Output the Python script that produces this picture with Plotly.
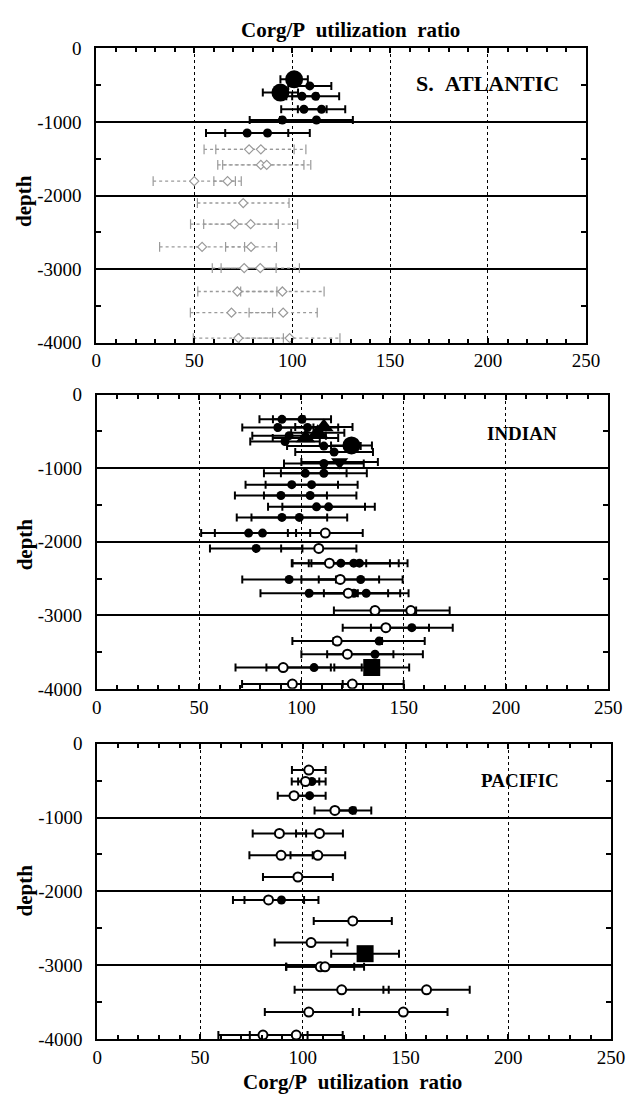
import plotly.graph_objects as go

# page is 636 x 1109; the browser adds an 8 px body margin round the figure
PAGE_W, PAGE_H, PAD = 636, 1109, 8
W, H = PAGE_W - 2 * PAD, PAGE_H - 2 * PAD

# ---------------- data ----------------
x_ticks = [0, 50, 100, 150, 200, 250]
y_ticks = [-4000, -3000, -2000, -1000, 0]
y_tick_text = ["-4000", "-3000", "-2000", "-1000", "0"]

panel_names = ["S.\u00a0\u00a0ATLANTIC", "INDIAN", "PACIFIC"]
axis_title = "Corg/P\u00a0\u00a0utilization\u00a0\u00a0ratio"
depth_title = "depth"

# S. Atlantic, upper (solid) estimates
atl_depth = [-420, -510, -600, -650, -650, -827, -827, -973, -973, -1150, -1150]
atl_value = [101, 109, 94, 105, 112, 106, 115, 95, 112.4, 77, 87.4]
atl_err = [7, 11, 9, 8, 12, 11.6, 12.1, 16.7, 18.6, 21, 21.6]
atl_kind = ["bigcircle", "filled", "bigcircle", "filled", "filled", "filled", "filled",
            "filled", "filled", "filled", "filled"]

# S. Atlantic, deep (grey dotted) estimates
atlg_depth = [-1372, -1372, -1584, -1584, -1805, -1805, -2102, -2389, -2389, -2699, -2699,
              -2987, -2987, -3305, -3305, -3593, -3593, -3938, -3938]
atlg_value = [78, 84, 84, 87, 50, 67, 75, 70.5, 78.8, 54, 79, 75.5, 83.7, 72, 95, 69, 95.4,
              72.5, 98.7]
atlg_err = [23, 23, 22, 22.5, 21, 7, 23.4, 22.4, 24, 21.7, 13, 16.3, 20, 20.2, 21.3, 21, 17.4,
            23, 25.7]

# Indian
ind_depth = [-336, -336, -440, -447, -447, -520, -558, -590, -638, -690, -700, -780, -915, -936,
             -1069, -1069, -1224, -1224, -1371, -1371, -1526, -1526, -1669, -1669,
             -1882, -1882, -1882, -2091, -2091,
             -2291, -2291, -2291, -2291, -2513, -2513, -2513,
             -2700, -2700, -2700, -2700, -2935, -2935, -3168, -3168,
             -3351, -3351, -3529, -3529, -3711, -3711, -3711, -3935, -3935]
ind_value = [90.5, 100.3, 111, 88.5, 103, 108, 94, 102, 92, 124.5, 111, 116, 118.7, 111,
             101.9, 111, 95.3, 105, 90, 104.3, 107.4, 113.3, 90.5, 99,
             74.2, 81, 111.7, 77.9, 108.5,
             113.7, 119.3, 125.6, 128.4, 94, 119, 129,
             103.8, 122.9, 125.7, 131.7, 136, 153.5, 141.3, 154,
             117.5, 138, 122.5, 136, 91.1, 106.2, 134.4, 95.6, 124.9]
ind_err = [11, 14.2, 14, 17.4, 15, 13, 18, 16, 17, 10, 18, 19, 18.7, 19.5,
           20.2, 21, 22.6, 22.5, 22.5, 22.6, 23.7, 22.6, 22.1, 23.4,
           23.2, 23.3, 18.3, 22.6, 18.4,
           18, 24, 22, 23.5, 22.9, 19, 20.5,
           23.8, 19.5, 22.6, 20.7, 20.1, 19, 21.1, 20,
           21.9, 22.3, 22.5, 23.4, 23.3, 23.3, 18.3, 24.6, 25.1]
ind_kind = ["filled", "filled", "triangle", "filled", "filled", "triangle", "filled", "triangle",
            "filled", "bigcircle", "filled", "filled", "tridown", "filled",
            "filled", "filled", "filled", "filled", "filled", "filled", "filled", "filled",
            "filled", "filled",
            "filled", "filled", "open", "filled", "open",
            "open", "filled", "filled", "filled", "filled", "open", "filled",
            "filled", "open", "filled", "filled", "open", "open", "open", "filled",
            "open", "filled", "open", "filled", "open", "filled", "square", "open", "open"]

# Pacific
pac_depth = [-356, -511, -511, -703, -703, -903, -903, -1214, -1214, -1511, -1511, -1805,
             -2116, -2116, -2400, -2693, -2844, -3022, -3022, -3333, -3333, -3635, -3635,
             -3947, -3947]
pac_value = [102.9, 101.3, 104.4, 95.7, 103.3, 115.6, 124.3, 88.6, 108.1, 89.4, 107.3, 97.6,
             83.3, 89.6, 124.3, 104, 130.3, 108.5, 110.8, 118.9, 160.2, 102.9, 148.9,
             80.6, 96.8]
pac_err = [8.2, 6.7, 6.7, 7.9, 7.8, 9.9, 9, 13, 11.4, 15.4, 13.3, 17,
           17.3, 18, 19, 17.7, 16.5, 16.5, 19, 22.9, 21, 21.4, 21.5, 21.7, 22.6]
pac_kind = ["open", "open", "filled", "open", "filled", "open", "filled", "open", "open",
            "open", "open", "open", "open", "filled", "open", "open", "square", "open", "open",
            "open", "open", "open", "open", "open", "open"]

# ---------------- styles ----------------
marker_styles = {
    "filled": dict(symbol="circle", size=9, color="black", line=dict(width=0)),
    "open": dict(symbol="circle", size=9, color="white", line=dict(width=2, color="black")),
    "bigcircle": dict(symbol="circle", size=18, color="black", line=dict(width=0)),
    "triangle": dict(symbol="triangle-up", size=17, color="black", line=dict(width=0)),
    "tridown": dict(symbol="triangle-down", size=15, color="black", line=dict(width=0)),
    "square": dict(symbol="square", size=17, color="black", line=dict(width=0)),
}

fig = go.Figure()

def px_x(p):
    return (p - PAD) / W

def px_y(p):
    return 1 - (p - PAD) / H

panels = [
    dict(xd=[px_x(94), px_x(599)], yd=[px_y(339), px_y(39)]),
    dict(xd=[px_x(94.5), px_x(622)], yd=[px_y(692), px_y(392)]),
    dict(xd=[px_x(95), px_x(625)], yd=[px_y(1049), px_y(748)]),
]

datasets = [
    (atl_depth, atl_value, atl_err, atl_kind),
    (ind_depth, ind_value, ind_err, ind_kind),
    (pac_depth, pac_value, pac_err, pac_kind),
]

GREY = "#9a9a9a"
for i, (pn, ds) in enumerate(zip(panels, datasets)):
    ax = "" if i == 0 else str(i + 1)
    xref, yref = "x" + ax, "y" + ax
    if i == 0:
        lx, ly, cx, cy = [], [], [], []
        for d, v, e in zip(atlg_depth, atlg_value, atlg_err):
            lx += [v - e, v + e, None]
            ly += [d, d, None]
            cx += [v - e, v + e]
            cy += [d, d]
        fig.add_trace(go.Scatter(x=lx, y=ly, mode="lines", xaxis=xref, yaxis=yref,
                                 line=dict(color=GREY, width=1.3, dash="dot"),
                                 showlegend=False, hoverinfo="skip"))
        fig.add_trace(go.Scatter(x=cx, y=cy, mode="markers", xaxis=xref, yaxis=yref,
                                 marker=dict(symbol="line-ns", size=7,
                                             line=dict(color=GREY, width=1.2)),
                                 showlegend=False, hoverinfo="skip"))
        fig.add_trace(go.Scatter(x=atlg_value, y=atlg_depth, mode="markers",
                                 xaxis=xref, yaxis=yref,
                                 marker=dict(symbol="diamond", size=7, color="white",
                                             line=dict(color=GREY, width=1.2)),
                                 showlegend=False, hoverinfo="skip"))
    depth, value, err, kind = ds
    fig.add_trace(go.Scatter(x=value, y=depth, mode="markers", xaxis=xref, yaxis=yref,
                             marker=dict(size=1, color="rgba(0,0,0,0)"),
                             error_x=dict(type="data", array=err, symmetric=True,
                                          color="black", thickness=2, width=4),
                             showlegend=False, hoverinfo="skip"))
    for k, st in marker_styles.items():
        xs = [v for v, kk in zip(value, kind) if kk == k]
        ys = [d for d, kk in zip(depth, kind) if kk == k]
        if not xs:
            continue
        fig.add_trace(go.Scatter(x=xs, y=ys, mode="markers", xaxis=xref, yaxis=yref,
                                 marker=st, showlegend=False, hoverinfo="skip"))

    tickfont = dict(family="Liberation Serif", size=19, color="black")
    fig.update_layout(**{
        "xaxis" + ax: dict(domain=pn["xd"], range=[0, 250], anchor=yref,
                           tickvals=x_ticks, ticks="inside", ticklen=5, tickwidth=2,
                           tickcolor="black",
                           showline=True, linecolor="black", linewidth=2, mirror="ticks",
                           showgrid=True, gridcolor="black", gridwidth=1, griddash="dot",
                           zeroline=False, tickfont=tickfont,
                           minor=dict(dtick=10, ticks="inside", ticklen=4, tickwidth=1.5,
                                      tickcolor="black", showgrid=False)),
        "yaxis" + ax: dict(domain=pn["yd"], range=[-4000, 0], anchor=xref,
                           tickvals=y_ticks, ticktext=y_tick_text,
                           ticks="inside", ticklen=5, tickwidth=2, tickcolor="black",
                           showline=True, linecolor="black", linewidth=2, mirror="ticks",
                           showgrid=True, gridcolor="black", gridwidth=2,
                           zeroline=False, tickfont=tickfont, ticklabelstandoff=9,
                           minor=dict(dtick=500, ticks="inside", ticklen=5, tickwidth=1.5,
                                      tickcolor="black", showgrid=False)),
    })

annotations = []
title_font = dict(family="Liberation Serif", size=21, color="black")
annotations.append(dict(text="<b>" + axis_title + "</b>", x=px_x(356), y=px_y(20),
                        xref="paper", yref="paper", showarrow=False, font=title_font,
                        xanchor="center", yanchor="middle"))
annotations.append(dict(text="<b>" + axis_title + "</b>", x=px_x(358), y=px_y(1093),
                        xref="paper", yref="paper", showarrow=False, font=title_font,
                        xanchor="center", yanchor="middle"))
for yc in [195, 545, 898]:
    annotations.append(dict(text="<b>" + depth_title + "</b>", x=px_x(20), y=px_y(yc),
                            xref="paper", yref="paper", showarrow=False, textangle=-90,
                            font=title_font, xanchor="center", yanchor="middle"))
label_pos = [(497, 75, 22), (533, 432, 19), (531, 785, 19)]
for name, (lx, ly, fs) in zip(panel_names, label_pos):
    annotations.append(dict(text="<b>" + name + "</b>", x=px_x(lx), y=px_y(ly),
                            xref="paper", yref="paper", showarrow=False,
                            font=dict(family="Liberation Serif", size=fs, color="black"),
                            xanchor="center", yanchor="middle"))

fig.update_layout(width=W, height=H, margin=dict(l=0, r=0, t=0, b=0),
                  paper_bgcolor="white", plot_bgcolor="white",
                  annotations=annotations, showlegend=False)

fig.write_html("out.html", config={"displayModeBar": False})
